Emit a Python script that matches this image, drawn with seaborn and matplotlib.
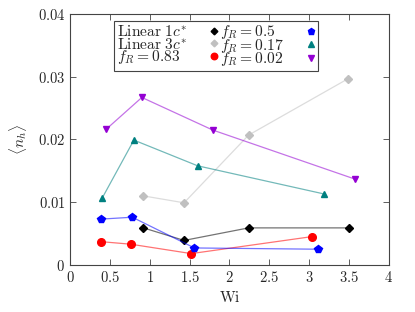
import numpy as np
import pandas as pd
import matplotlib
matplotlib.use("Agg")
import matplotlib.pyplot as plt
from matplotlib.lines import Line2D
from matplotlib.ticker import FuncFormatter, MultipleLocator
import seaborn as sns

# series (Wi, <n_h>)
labels = [r"$\mathrm{Linear}\ 1c^{*}$", r"$\mathrm{Linear}\ 3c^{*}$", r"$f_R = 0.83$",
          r"$f_R = 0.5$", r"$f_R = 0.17$", r"$f_R = 0.02$"]

wi_lin1 = [0.92, 1.43, 2.24, 3.50]
nh_lin1 = [0.0059, 0.0039, 0.0059, 0.0059]

wi_lin3 = [0.92, 1.43, 2.24, 3.49]
nh_lin3 = [0.0110, 0.0099, 0.0207, 0.0297]

wi_f083 = [0.39, 0.76, 1.52, 3.03]
nh_f083 = [0.0037, 0.0033, 0.0018, 0.0045]

wi_f05 = [0.39, 0.78, 1.56, 3.11]
nh_f05 = [0.0073, 0.0076, 0.0027, 0.0025]

wi_f017 = [0.40, 0.80, 1.60, 3.19]
nh_f017 = [0.0106, 0.0199, 0.0158, 0.0113]

wi_f002 = [0.45, 0.90, 1.79, 3.57]
nh_f002 = [0.0216, 0.0267, 0.0215, 0.0137]

series = [
    (wi_lin1, nh_lin1, "black", "D", 4.0),
    (wi_lin3, nh_lin3, "#c0c0c0", "D", 4.0),
    (wi_f083, nh_f083, "red", "o", 5.5),
    (wi_f05, nh_f05, "blue", "p", 5.5),
    (wi_f017, nh_f017, "#008080", "^", 5.0),
    (wi_f002, nh_f002, "#9400d3", "v", 5.0),
]

sns.set_style("ticks")
plt.rcParams["font.family"] = ["DejaVu Serif"]
plt.rcParams["mathtext.fontset"] = "cm"

fig = plt.figure(figsize=(4.15, 3.12), dpi=100)
ax = fig.add_axes([0.169, 0.151, 0.768, 0.804])

handles = []
for (x, y, col, mk, ms), lab in zip(series, labels):
    df = pd.DataFrame({"Wi": x, "nh": y})
    sns.lineplot(data=df, x="Wi", y="nh", color=col, alpha=0.55, lw=0.9,
                 sort=False, ax=ax, legend=False)
    ax.plot(df["Wi"], df["nh"], ls="none", marker=mk, ms=ms, color=col,
            mec=col)
    handles.append(Line2D([], [], ls="none", marker=mk, ms=ms * 0.85,
                          color=col, label=lab))

ax.set_xlim(0, 4)
ax.set_ylim(0, 0.04)
ax.xaxis.set_major_locator(MultipleLocator(0.5))
ax.yaxis.set_major_locator(MultipleLocator(0.01))
ax.xaxis.set_major_formatter(FuncFormatter(lambda v, p: f"${v:g}$"))
ax.yaxis.set_major_formatter(FuncFormatter(lambda v, p: f"${v:g}$"))
ax.tick_params(direction="in", top=True, right=True, length=4, width=0.6,
               labelsize=10.5, color="#444444")
for s in ax.spines.values():
    s.set_linewidth(0.8)
    s.set_color("#444444")

ax.set_xlabel(r"$\mathrm{Wi}$", fontsize=11)
ax.set_ylabel(r"$\langle n_h \rangle$", fontsize=11, labelpad=6)

leg = ax.legend(handles=handles, ncol=2, markerfirst=False,
                loc="upper left", bbox_to_anchor=(0.139, 0.973),
                borderaxespad=0, fontsize=11.2, handlelength=0.5,
                handletextpad=1.5, columnspacing=0.15, labelspacing=-0.28,
                borderpad=0.15, fancybox=False, framealpha=1,
                edgecolor="#444444")
leg.get_frame().set_linewidth(0.8)

# labels left-aligned, markers in a column on the right of each label column
fig.canvas.draw()
r = fig.canvas.get_renderer()
px_per_pt = fig.dpi / 72.0
for colbox in leg._legend_handle_box.get_children():
    colbox.align = "left"
    items = colbox.get_children()
    widths = [it.get_children()[0].get_bbox(r).width for it in items]
    wmax = max(widths)
    for it, w in zip(items, widths):
        it.sep += (wmax - w) / px_per_pt

fig.savefig("out.png", dpi=100)
